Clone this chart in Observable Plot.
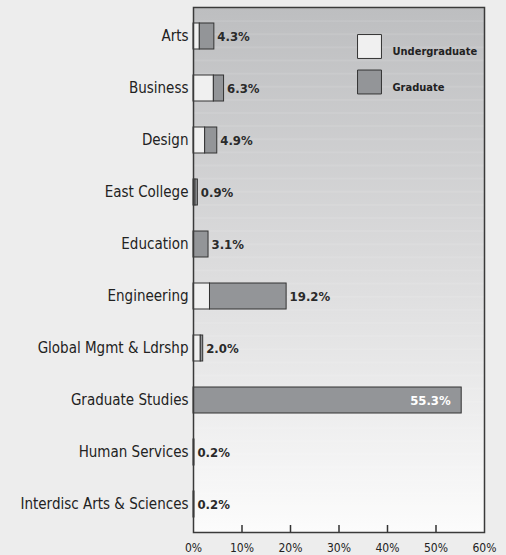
<!DOCTYPE html>
<html><head><meta charset="utf-8">
<script src="https://cdn.jsdelivr.net/npm/d3@7"></script>
<script src="https://cdn.jsdelivr.net/npm/@observablehq/plot@0.6"></script>
<style>
html,body{margin:0;padding:0;background:#ededed;}
</style></head><body><div id="chart"></div>
<script>
const categories = ["Arts","Business","Design","East College","Education","Engineering","Global Mgmt & Ldrshp","Graduate Studies","Human Services","Interdisc Arts & Sciences"];
const undergrad = [1.3, 4.2, 2.4, 0.4, 0.1, 3.4, 1.5, 0, 0, 0];
const graduate  = [3.0, 2.1, 2.5, 0.5, 3.0, 15.8, 0.5, 55.3, 0.2, 0.2];
const seriesNames = ["Undergraduate", "Graduate"];
const seriesColors = ["#f0f0f0", "#939598"];
const xTicks = [0, 10, 20, 30, 40, 50, 60];
const innerTicks = [10, 20, 30, 40, 50];

const rows = categories.flatMap((c, i) => [
  {category: c, series: seriesNames[0], value: undergrad[i]},
  {category: c, series: seriesNames[1], value: graduate[i]}
]).filter(d => d.value > 0);
const totals = categories.map((c, i) => {
  const t = undergrad[i] + graduate[i];
  return {category: c, total: t, label: t.toFixed(1) + "%"};
});
const insideLabels = totals.filter(d => d.total > 40);
const outsideLabels = totals.filter(d => d.total <= 40);

const FONT = "'DejaVu Sans Condensed', 'Liberation Sans', Arial, sans-serif";

const svg = Plot.plot({
  width: 506,
  height: 555,
  marginLeft: 193,
  marginRight: 22,
  marginTop: 7,
  marginBottom: 23,
  style: {fontFamily: FONT, fontSize: "15px", background: "#ededed", color: "#222"},
  x: {domain: [0, 60]},
  y: {domain: categories, paddingInner: 0.5, paddingOuter: 0.25},
  color: {domain: seriesNames, range: seriesColors},
  marks: [
    Plot.frame({fill: "url(#bgGrad)"}),
    Plot.frame({fill: "url(#stripes)"}),
    Plot.barX(rows, {x: "value", y: "category", fill: "series", stroke: "#333", strokeWidth: 1}),
    Plot.text(outsideLabels, {x: "total", y: "category", text: "label", textAnchor: "start", dx: 3, fontWeight: "bold", fontSize: 13, fill: "#2a2a2a"}),
    Plot.text(insideLabels, {x: "total", y: "category", text: "label", textAnchor: "end", dx: -11, fontWeight: "bold", fontSize: 13, fill: "#fff"}),
    Plot.ruleX(innerTicks, {x: d => d, insetTop: 518, stroke: "#333", strokeWidth: 1.5}),
    Plot.frame({stroke: "#3a3a3a", strokeWidth: 1.5}),
    Plot.axisX({ticks: xTicks, tickFormat: d => d + "%", tickSize: 0, tickPadding: 11, fontSize: 12, label: null}),
    Plot.axisY({tickSize: 0, tickPadding: 5, fontSize: 15, label: null}),
    Plot.dot([seriesNames[0]], {frameAnchor: "top-right", dx: -115, dy: 39, symbol: "square", r: 13.5, fill: seriesColors[0], stroke: "#333", strokeWidth: 1}),
    Plot.dot([seriesNames[1]], {frameAnchor: "top-right", dx: -115, dy: 74.5, symbol: "square", r: 13.5, fill: seriesColors[1], stroke: "#333", strokeWidth: 1}),
    Plot.text([seriesNames[0]], {text: d => d, frameAnchor: "top-right", dx: -92, dy: 40, textAnchor: "start", fontWeight: "bold", fontSize: 11, fill: "#222"}),
    Plot.text([seriesNames[1]], {text: d => d, frameAnchor: "top-right", dx: -92, dy: 75.5, textAnchor: "start", fontWeight: "bold", fontSize: 11, fill: "#222"})
  ]
});

const ns = "http://www.w3.org/2000/svg";
const defs = document.createElementNS(ns, "defs");
defs.innerHTML = `<linearGradient id="bgGrad" x1="0" y1="0" x2="0" y2="1">
  <stop offset="0" stop-color="#bdbec0"/><stop offset="0.5" stop-color="#dcdcdd"/><stop offset="1" stop-color="#fcfcfc"/></linearGradient>
  <pattern id="stripes" patternUnits="userSpaceOnUse" x="0" y="0" width="20" height="13.125">
  <rect x="0" y="7" width="20" height="1" fill="#ffffff" fill-opacity="0.15"/></pattern>`;
svg.insertBefore(defs, svg.firstChild);
document.getElementById("chart").appendChild(svg);
</script>
</body></html>
